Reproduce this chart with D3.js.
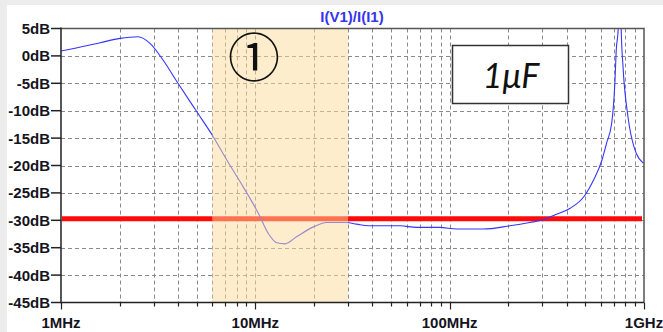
<!DOCTYPE html>
<html>
<head>
<meta charset="utf-8">
<script src="https://cdn.jsdelivr.net/npm/d3@7"></script>
<style>
  body { margin: 0; background: #fff; }
  svg { display: block; }
  .tick-label { font-family: "Liberation Sans", Arial, sans-serif; font-weight: bold; font-size: 15px; fill: #14141e; }
</style>
</head>
<body>
<svg class="chart" width="663" height="332"></svg>
<script>
// frequency points (MHz) and I(V1)/I(I1) magnitude (dB)
const freqMHz = [1, 1.18, 1.59, 2.01, 2.49, 2.87, 3.35, 4.0, 5.0, 6.06, 7.13, 8.66, 10.36, 11.66, 12.9, 14.2, 16.3, 19.9, 23.3, 29.5, 33.2, 38.2, 55.6, 67.6, 89, 108.6, 149, 204, 258, 303, 349, 417, 490, 551, 608, 642, 682, 708, 720, 737, 750, 763, 780, 827, 888, 995];
const gainDB = [0.9, 1.4, 2.4, 3.2, 3.5, 2.3, -0.75, -5, -10.2, -14.7, -19, -23.9, -28.7, -32.4, -34.1, -34.3, -33.0, -31.2, -30.4, -30.4, -30.7, -31.0, -31.0, -31.3, -31.3, -31.6, -31.6, -31.0, -30.4, -29.9, -29.0, -27.8, -25.7, -22.6, -19, -15.9, -12.3, -5.0, 1.1, 5, 20, 5, -2.0, -11.1, -16.6, -19.6];

const yTicks = [5, 0, -5, -10, -15, -20, -25, -30, -35, -40, -45];
const xMajor = [1, 10, 100, 1000];
const xLabels = ["1MHz", "10MHz", "100MHz", "1GHz"];
const limitDB = -29.7;
const band = [6, 30]; // shaded region (MHz)

const pLeft = 61, pRight = 644, pTop = 28.5, pBottom = 302.5;

const svg = d3.select(".chart");

// light grey frame strip of the screenshot
svg.append("rect").attr("x", 0).attr("y", 0).attr("width", 663).attr("height", 5).attr("fill", "#ededed");
svg.append("rect").attr("x", 0).attr("y", 0).attr("width", 7).attr("height", 332).attr("fill", "#ececec");

const x = d3.scaleLog().domain([1, 1000]).range([pLeft, pRight]);
const y = d3.scaleLinear().domain([5, -45]).range([pTop, pBottom]);

// minor + major x grid
let xGrid = [];
[1, 10, 100].forEach(d => { for (let k = 1; k <= 9; k++) xGrid.push(d * k); });
xGrid.push(1000);

const grid = svg.append("g").attr("stroke", "#8a8a8a").attr("stroke-width", 1).attr("stroke-dasharray", "4,3");
grid.selectAll(".vg")
  .data(xGrid.filter(d => d > 1 && d < 1000))
  .enter()
  .append("line")
  .attr("x1", d => Math.round(x(d)) + 0.5)
  .attr("x2", d => Math.round(x(d)) + 0.5)
  .attr("y1", pTop)
  .attr("y2", pBottom);
grid.selectAll(".hg")
  .data(yTicks.filter(d => d < 5 && d > -45))
  .enter()
  .append("line")
  .attr("x1", pLeft)
  .attr("x2", pRight)
  .attr("y1", d => Math.round(y(d)) + 0.5)
  .attr("y2", d => Math.round(y(d)) + 0.5);

// clip to plot area
svg.append("clipPath").attr("id", "plot")
  .append("rect").attr("x", pLeft).attr("y", pTop).attr("width", pRight - pLeft).attr("height", pBottom - pTop);

// red limit line
svg.append("line")
  .attr("x1", pLeft + 1).attr("x2", pRight - 2)
  .attr("y1", y(limitDB)).attr("y2", y(limitDB))
  .attr("stroke", "#ff0a0a").attr("stroke-width", 5);

// the response curve
svg.append("path")
  .datum(freqMHz.map((f, i) => [f, gainDB[i]]))
  .attr("clip-path", "url(#plot)")
  .attr("fill", "none")
  .attr("stroke", "#3535ff")
  .attr("stroke-width", 1.1)
  .attr("d", d3.line().curve(d3.curveMonotoneX).x(d => x(d[0])).y(d => y(d[1])));

// shaded band drawn on top, semi transparent
svg.append("rect")
  .attr("x", x(band[0])).attr("y", pTop)
  .attr("width", x(band[1]) - x(band[0]))
  .attr("height", pBottom - pTop)
  .attr("fill", "#fbdc9a")
  .attr("opacity", 0.5);

// frame
svg.append("path")
  .attr("d", `M${pLeft},${pTop}H${pRight}V${pBottom}`)
  .attr("fill", "none").attr("stroke", "#555").attr("stroke-width", 1.5);
svg.append("path")
  .attr("d", `M${pLeft},${pTop - 1}V${pBottom}H${pRight}`)
  .attr("fill", "none").attr("stroke", "#222").attr("stroke-width", 1.5);

// y axis ticks and labels
const yAxis = svg.append("g");
yAxis.selectAll("line")
  .data(yTicks)
  .enter()
  .append("line")
  .attr("x1", 51).attr("x2", pLeft)
  .attr("y1", d => y(d)).attr("y2", d => y(d))
  .attr("stroke", "#222").attr("stroke-width", 1.5);
yAxis.selectAll("text")
  .data(yTicks)
  .enter()
  .append("text")
  .attr("class", "tick-label")
  .attr("x", 50)
  .attr("y", d => y(d) + 5.5)
  .attr("text-anchor", "end")
  .text(d => d + "dB");

// x axis ticks and labels
const xAxis = svg.append("g");
xAxis.selectAll("line")
  .data(xGrid)
  .enter()
  .append("line")
  .attr("x1", d => Math.round(x(d)) + 0.5)
  .attr("x2", d => Math.round(x(d)) + 0.5)
  .attr("y1", pBottom)
  .attr("y2", d => xMajor.includes(d) ? pBottom + 7 : pBottom + 4)
  .attr("stroke", "#222").attr("stroke-width", 1.2);
xAxis.selectAll("text")
  .data(xMajor)
  .enter()
  .append("text")
  .attr("class", "tick-label")
  .attr("x", d => x(d))
  .attr("y", 328)
  .attr("text-anchor", "middle")
  .text((d, i) => xLabels[i]);

// trace name
svg.append("text")
  .attr("x", 352).attr("y", 22)
  .attr("text-anchor", "middle")
  .style("font-family", "'Liberation Sans', Arial, sans-serif")
  .style("font-weight", "bold")
  .style("font-size", "15px")
  .style("fill", "#3535f0")
  .text("I(V1)/I(I1)");

// annotations
svg.append("text")
  .attr("x", 254).attr("y", 77)
  .attr("text-anchor", "middle")
  .style("font-family", "'Noto Sans CJK JP', 'DejaVu Sans', sans-serif")
  .style("font-size", "52px")
  .style("fill", "#111")
  .text("①");

svg.append("rect")
  .attr("x", 452.5).attr("y", 45.5).attr("width", 116).attr("height", 58)
  .attr("fill", "#fff").attr("stroke", "#333").attr("stroke-width", 1.5);
svg.append("text")
  .attr("x", 511).attr("y", 88)
  .attr("text-anchor", "middle")
  .style("font-family", "Lato, 'Open Sans', sans-serif")
  .style("font-style", "italic")
  .style("font-size", "34px")
  .style("fill", "#111")
  .text("1μF");
</script>
</body>
</html>
